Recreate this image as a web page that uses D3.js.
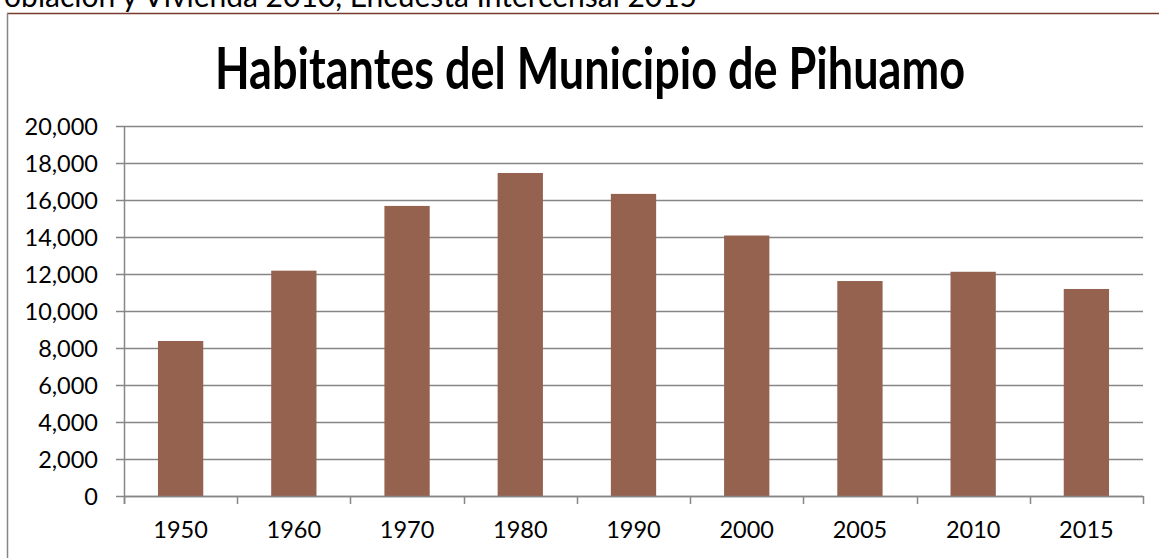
<!DOCTYPE html>
<html>
<head>
<meta charset="utf-8">
<script src="https://cdn.jsdelivr.net/npm/d3@7"></script>
<style>
  body { margin: 0; background: #fff; }
  svg { display: block; font-family: Lato, "Open Sans", sans-serif; }
</style>
</head>
<body>
<div id="chart"></div>
<script>
var years = ["1950", "1960", "1970", "1980", "1990", "2000", "2005", "2010", "2015"];
var habitantes = [8378, 12180, 15680, 17460, 16330, 14080, 11620, 12120, 11190];
var yTicks = [0, 2000, 4000, 6000, 8000, 10000, 12000, 14000, 16000, 18000, 20000];

var width = 1159,
    height = 558,
    margin = {"left": 124, "top": 126, "right": 16, "bottom": 62},
    barColor = "#94624f",
    gridColor = "#868686";

var svg = d3.select("#chart")
    .append("svg")
    .attr("width", width)
    .attr("height", height);

// texto cortado de arriba (la fuente de los datos)
svg.append("text")
    .attr("x", 697)
    .attr("y", 7)
    .attr("text-anchor", "end")
    .attr("font-size", 30)
    .attr("fill", "#000")
    .text("Censo de Población y Vivienda 2010, Encuesta Intercensal 2015");

// marco de la grafica
svg.append("line")
    .attr("x1", 7).attr("x2", width)
    .attr("y1", 13.5).attr("y2", 13.5)
    .attr("stroke", "#7a3b2e").attr("stroke-width", 1.5);
svg.append("line")
    .attr("x1", 7.5).attr("x2", 7.5)
    .attr("y1", 13).attr("y2", height)
    .attr("stroke", gridColor).attr("stroke-width", 1.5);

svg.append("text")
    .attr("x", 590)
    .attr("y", 89)
    .attr("text-anchor", "middle")
    .attr("font-size", 58)
    .attr("font-weight", "bold")
    .attr("textLength", 750)
    .attr("lengthAdjust", "spacingAndGlyphs")
    .text("Habitantes del Municipio de Pihuamo");

var x = d3.scaleBand()
    .domain(years)
    .range([margin.left, width - margin.right])
    .paddingInner(0.6)
    .paddingOuter(0.3);

var y = d3.scaleLinear()
    .domain([0, 20000])
    .range([height - margin.bottom, margin.top]);

var y0 = y(0);

// lineas de la cuadricula
svg.append("g")
    .selectAll("line")
    .data(yTicks)
    .enter()
    .append("line")
    .attr("x1", margin.left - 8)
    .attr("x2", width - margin.right)
    .attr("y1", function (d) { return Math.round(y(d)) + 0.5; })
    .attr("y2", function (d) { return Math.round(y(d)) + 0.5; })
    .attr("stroke", gridColor)
    .attr("stroke-width", 1.5);

// eje y
var yAxis = svg.append("g")
    .attr("transform", "translate(" + margin.left + ",0)")
    .call(d3.axisLeft(y).tickValues(yTicks).tickSize(8).tickFormat(d3.format(",")));
yAxis.select(".domain").remove();
yAxis.selectAll(".tick line").remove();
yAxis.selectAll("text")
    .attr("x", -26)
    .attr("dy", "0.34em")
    .attr("font-size", 23.5)
    .attr("font-family", "Lato, sans-serif")
    .attr("fill", "#000");

svg.append("line")
    .attr("x1", margin.left + 0.5).attr("x2", margin.left + 0.5)
    .attr("y1", margin.top).attr("y2", y0 + 8)
    .attr("stroke", gridColor).attr("stroke-width", 1.5);

// barras
svg.selectAll(".bar")
    .data(habitantes)
    .enter()
    .append("rect")
    .attr("class", "bar")
    .attr("x", function (d, i) { return x(years[i]); })
    .attr("y", function (d) { return y(d); })
    .attr("width", x.bandwidth())
    .attr("height", function (d) { return y0 - y(d); })
    .attr("fill", barColor);

// eje x
var xAxis = svg.append("g")
    .attr("transform", "translate(0," + y0 + ")")
    .call(d3.axisBottom(x).tickSize(0).tickPadding(0));
xAxis.select(".domain").remove();
xAxis.selectAll("text")
    .attr("y", 42)
    .attr("dy", 0)
    .attr("font-size", 23.5)
    .attr("font-family", "Lato, sans-serif")
    .attr("fill", "#000");

svg.append("line")
    .attr("x1", margin.left).attr("x2", width - margin.right)
    .attr("y1", Math.round(y0) + 0.5).attr("y2", Math.round(y0) + 0.5)
    .attr("stroke", gridColor).attr("stroke-width", 1.5);

svg.append("g")
    .selectAll("line")
    .data(d3.range(years.length + 1))
    .enter()
    .append("line")
    .attr("x1", function (i) { return Math.round(margin.left + (i * x.step())) + 0.5; })
    .attr("x2", function (i) { return Math.round(margin.left + (i * x.step())) + 0.5; })
    .attr("y1", y0)
    .attr("y2", y0 + 8)
    .attr("stroke", gridColor)
    .attr("stroke-width", 1.5);
</script>
</body>
</html>
